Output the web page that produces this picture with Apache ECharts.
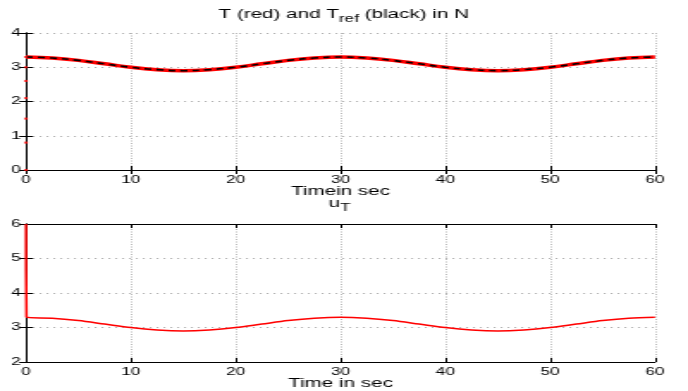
<!DOCTYPE html>
<html>
<head>
<meta charset="utf-8">
<script src="https://cdn.jsdelivr.net/npm/echarts@6/dist/echarts.min.js"></script>
<style>
  html, body { margin: 0; padding: 0; background: #fff; overflow: hidden; }
  /* the reference figure is a horizontally stretched MATLAB plot,
     so draw it narrow and stretch the whole chart the same way */
  #chart { width: 400px; height: 391px; transform: scaleX(1.72); transform-origin: 0 0; }
</style>
</head>
<body>
<div id="chart"></div>
<script>
// time base (s)
const timeSec = [0, 2.5, 5, 7.5, 10, 12.5, 15, 17.5, 20, 22.5, 25, 27.5, 30,
  32.5, 35, 37.5, 40, 42.5, 45, 47.5, 50, 52.5, 55, 57.5, 60];
// reference tension T_ref (black dashed)
const tRef = [3.30, 3.27, 3.20, 3.10, 3.00, 2.93, 2.90, 2.93, 3.00, 3.10, 3.20, 3.27, 3.30,
  3.27, 3.20, 3.10, 3.00, 2.93, 2.90, 2.93, 3.00, 3.10, 3.20, 3.27, 3.30];
// measured tension T (red)
const tMeas = [3.30, 3.27, 3.20, 3.10, 3.00, 2.93, 2.90, 2.93, 3.00, 3.10, 3.20, 3.27, 3.30,
  3.27, 3.20, 3.10, 3.00, 2.93, 2.90, 2.93, 3.00, 3.10, 3.20, 3.27, 3.30];
// start-up rise of T seen along t = 0
const tRise = [0, 0.8, 1.5, 2.1, 2.6, 3.0, 3.3];
// control input u_T
const uTime = [0, 0.05, 2.5, 5, 7.5, 10, 12.5, 15, 17.5, 20, 22.5, 25, 27.5, 30,
  32.5, 35, 37.5, 40, 42.5, 45, 47.5, 50, 52.5, 55, 57.5, 60];
const uVals = [6.0, 3.30, 3.27, 3.20, 3.10, 3.00, 2.93, 2.90, 2.93, 3.00, 3.10, 3.20, 3.27, 3.30,
  3.27, 3.20, 3.10, 3.00, 2.93, 2.90, 2.93, 3.00, 3.10, 3.20, 3.27, 3.30];

const FONT = 'Liberation Sans';
const pair = (xs, ys) => xs.map((x, i) => [x, ys[i]]);

const chart = echarts.init(document.getElementById('chart'), null, { renderer: 'canvas' });

const label = { color: '#000', fontFamily: FONT, fontSize: 10 };
const frame = { lineStyle: { color: '#000', width: 1 } };

function xAxisPair(gi, name) {
  return [
    {
      type: 'value', gridIndex: gi, min: 0, max: 60, interval: 10,
      name: name, nameLocation: 'middle', nameGap: 16,
      nameTextStyle: { color: '#000', fontFamily: FONT, fontSize: 12 },
      axisLine: frame,
      axisTick: { inside: true, length: 4, lineStyle: { color: '#000' } },
      axisLabel: Object.assign({ margin: 5 }, label),
      splitLine: { show: true, lineStyle: { color: '#a8a8a8', type: [1, 1.5], width: 0.8 } }
    },
    {
      type: 'value', gridIndex: gi, position: 'top', min: 0, max: 60, interval: 10,
      axisLine: frame,
      axisTick: { inside: true, length: 4, lineStyle: { color: '#000' } },
      axisLabel: { show: false }, splitLine: { show: false }
    }
  ];
}

function yAxisPair(gi, min, max) {
  return [
    {
      type: 'value', gridIndex: gi, min: min, max: max, interval: 1,
      axisLine: frame,
      axisTick: { inside: true, length: 4, lineStyle: { color: '#000' } },
      axisLabel: Object.assign({ margin: 3 }, label),
      splitLine: { show: true, lineStyle: { color: '#a8a8a8', type: [1, 3], width: 1 } }
    },
    {
      type: 'value', gridIndex: gi, position: 'right', min: min, max: max, interval: 1,
      axisLine: frame,
      axisTick: { inside: true, length: 4, lineStyle: { color: '#000' } },
      axisLabel: { show: false }, splitLine: { show: false }
    }
  ];
}

const titleStyle = {
  color: '#000', fontFamily: FONT, fontSize: 12, fontWeight: 'normal',
  rich: { sub: { fontSize: 10, fontFamily: FONT, color: '#000', padding: [8, 0, 0, 0] } }
};

const option = {
  backgroundColor: '#fff',
  animation: false,
  title: [
    { text: 'T (red) and T{sub|ref} (black) in N', left: 127, top: 6, padding: 0, textStyle: titleStyle },
    { text: 'u{sub|T}', left: 191, top: 195, padding: 0, textStyle: titleStyle }
  ],
  grid: [
    { left: 15.1, right: 19.2, top: 33, height: 137, show: false },
    { left: 15.1, right: 19.2, top: 224, height: 138, show: false }
  ],
  xAxis: xAxisPair(0, 'Timein sec').concat(xAxisPair(1, 'Time in sec')),
  yAxis: yAxisPair(0, 0, 4).concat(yAxisPair(1, 2, 6)),
  series: [
    {
      type: 'line', xAxisIndex: 0, yAxisIndex: 0, data: pair(timeSec, tMeas),
      smooth: 0.4, showSymbol: false, lineStyle: { color: '#ff0000', width: 3.5 }, z: 3
    },
    {
      type: 'scatter', xAxisIndex: 0, yAxisIndex: 0,
      data: tRise.map(v => [0, v]),
      symbol: 'rect', symbolSize: [2, 2], itemStyle: { color: '#ff0000' }, z: 5
    },
    {
      type: 'line', xAxisIndex: 0, yAxisIndex: 0, data: pair(timeSec, tRef),
      smooth: 0.4, showSymbol: false, lineStyle: { color: '#000', width: 1.6, type: [4, 3] }, z: 4
    },
    {
      type: 'line', xAxisIndex: 2, yAxisIndex: 2, data: pair(uTime, uVals),
      showSymbol: false, smooth: 0.3, lineStyle: { color: '#ff0000', width: 1.5 }, z: 3
    }
  ]
};
chart.setOption(option);
</script>
</body>
</html>
